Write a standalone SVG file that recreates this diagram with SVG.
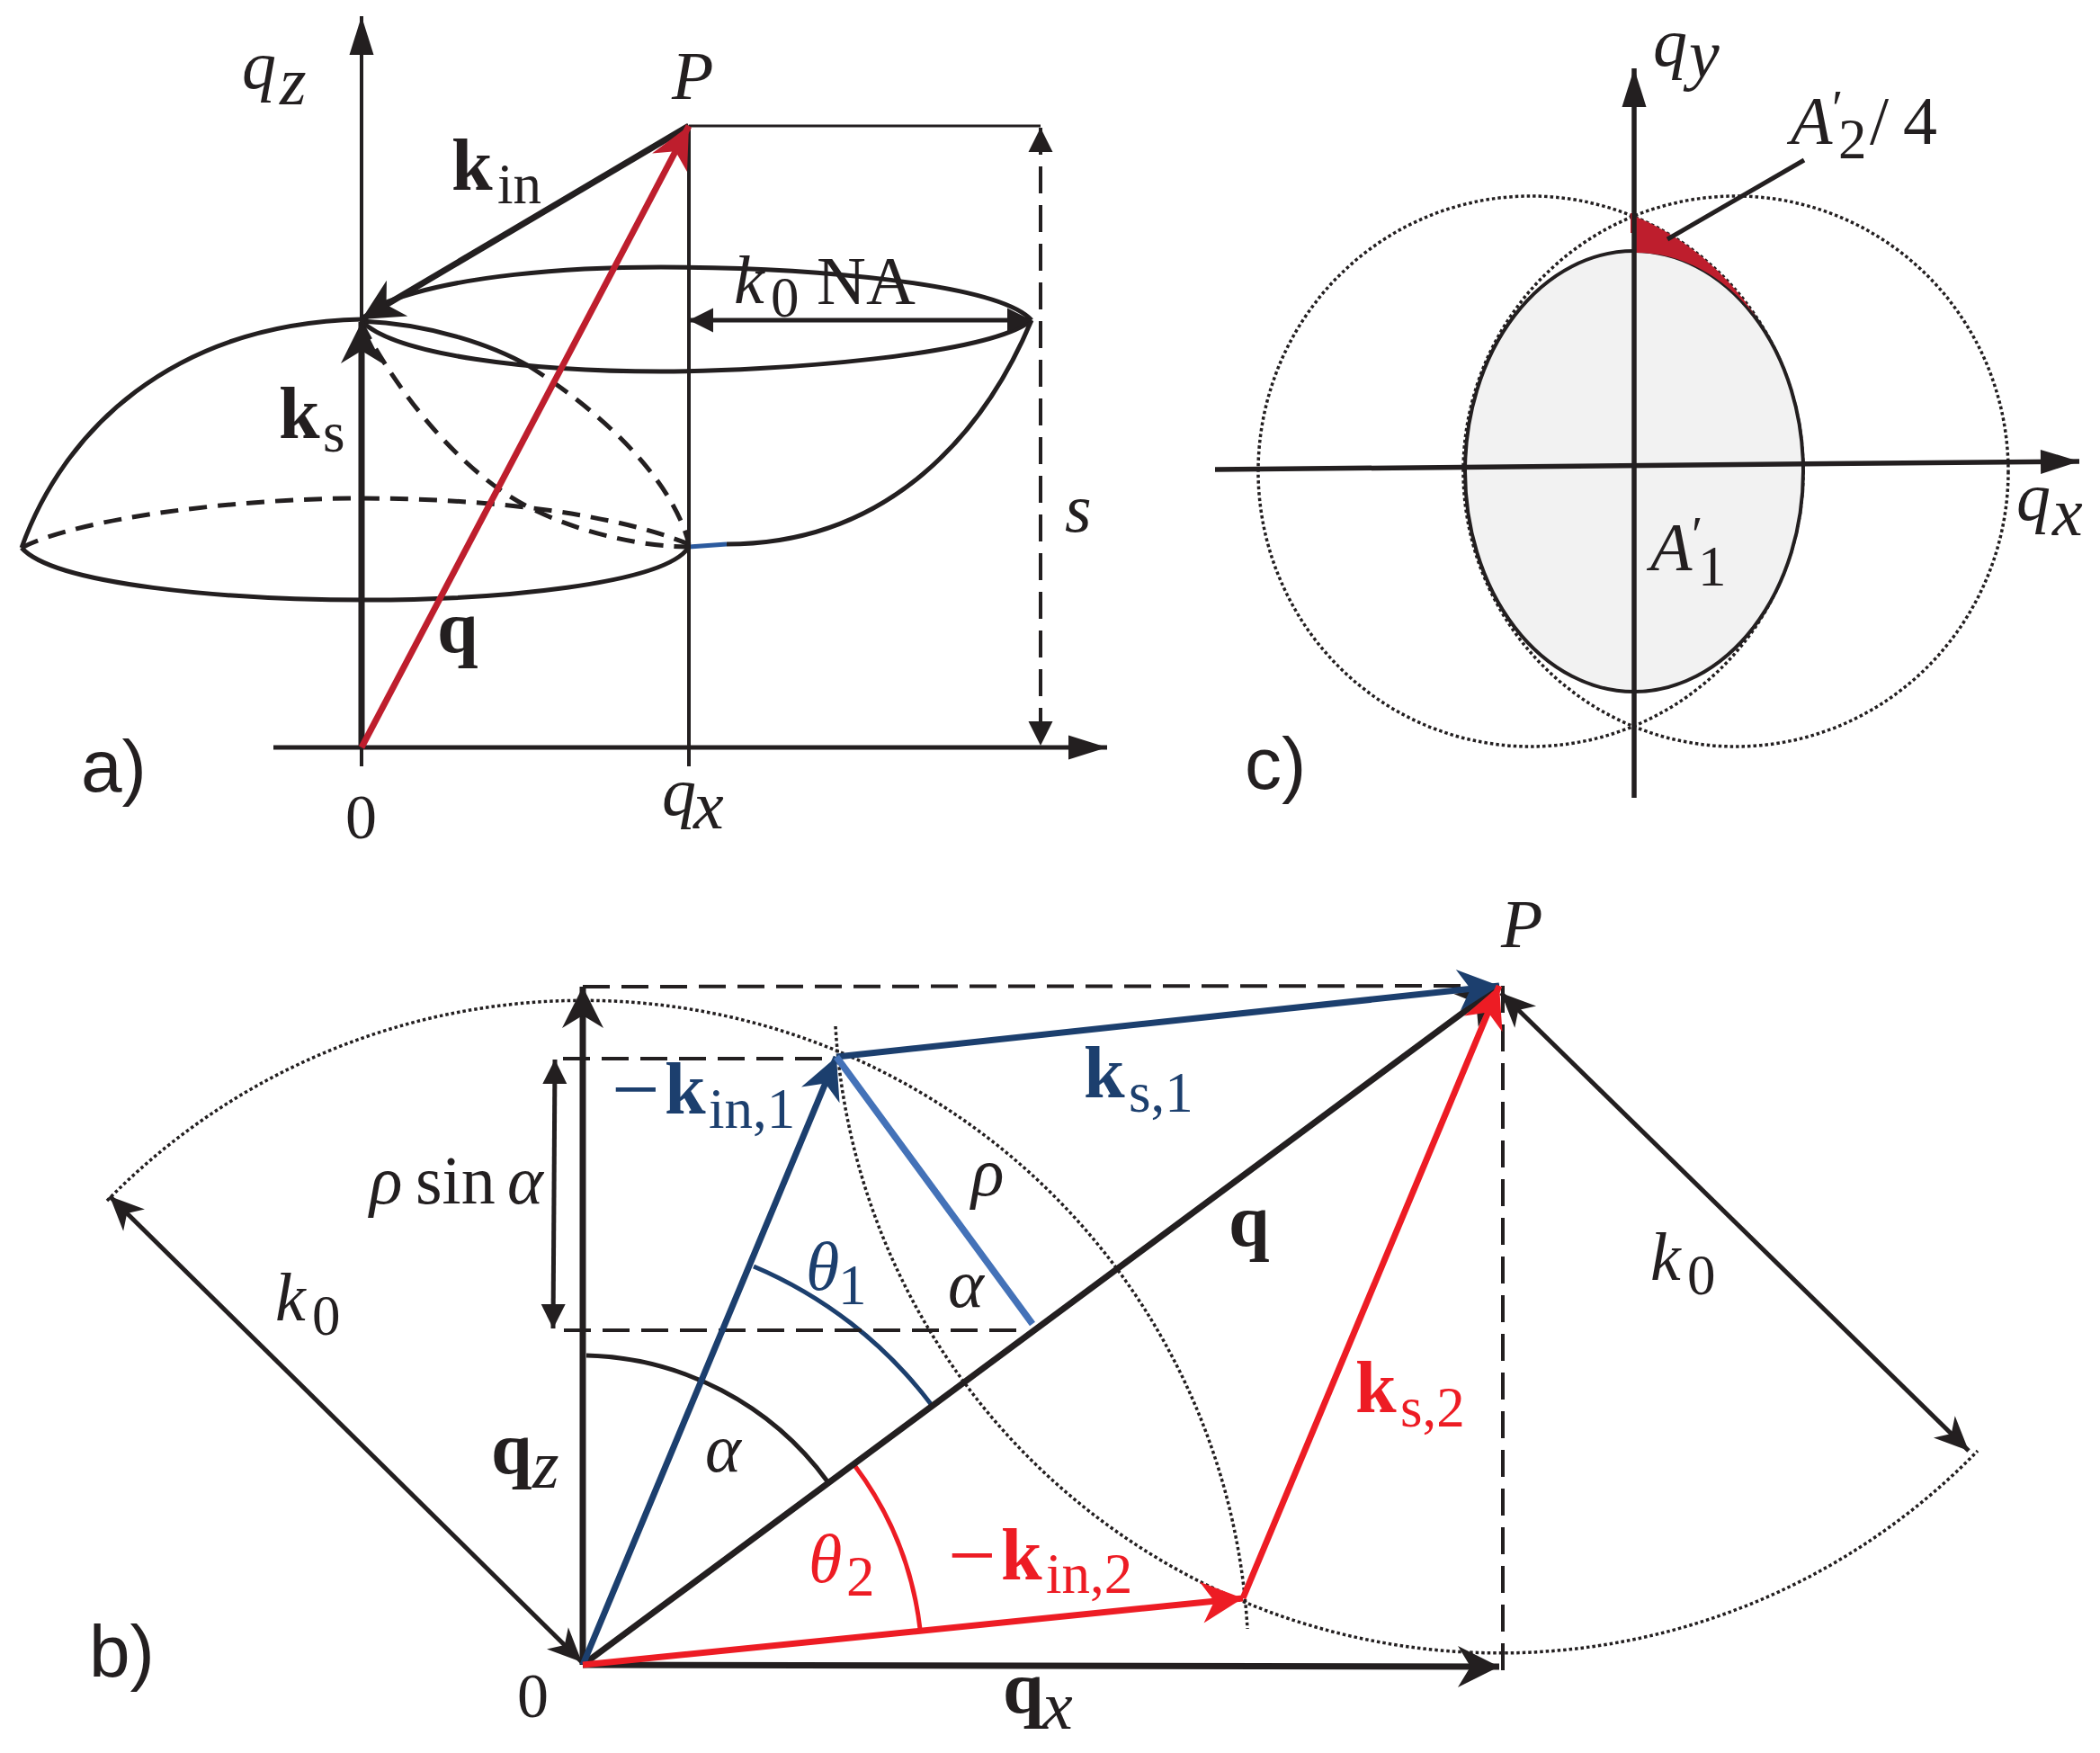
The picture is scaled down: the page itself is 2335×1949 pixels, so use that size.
<svg xmlns="http://www.w3.org/2000/svg" width="2335" height="1949" viewBox="0 0 2335 1949">
<style>
text{font-family:"Liberation Serif","DejaVu Serif",serif;font-size:76px;fill:#231f20}
.i{font-style:italic}
.b{font-weight:bold;font-size:82px}
.s{font-size:63px;font-style:normal;font-weight:normal}
.n{font-family:"Liberation Sans",Arial,sans-serif;font-size:82px}
.navy{fill:#1c3f6e}.red{fill:#ed1c24}
.l{fill:none;stroke:#231f20;stroke-width:5}
.t{stroke-width:3}.f{stroke-width:4}.m{stroke-width:5.5}.w{stroke-width:7}
.d{stroke-dasharray:20 12}.d2{stroke-dasharray:30 13;stroke-width:4}
.o{stroke-dasharray:3.5 3;stroke-width:3.5}
.cr{stroke:#be1e2d;stroke-width:7}.cn{stroke:#1c3f6e;stroke-width:7}.cb{stroke:#4472b8;stroke-width:7.5}.cd{stroke:#ed1c24;stroke-width:7}
</style>
<defs>
<marker id="ak" markerUnits="userSpaceOnUse" markerWidth="100" markerHeight="60" viewBox="-60 -30 100 60" refX="0" refY="0" orient="auto-start-reverse"><path d="M0,0 L-46,-23 L-32,0 L-46,23Z" fill="#231f20"/></marker>
<marker id="as" markerUnits="userSpaceOnUse" markerWidth="100" markerHeight="60" viewBox="-60 -30 100 60" refX="0" refY="0" orient="auto-start-reverse"><path d="M0,0 L-38,-17 L-27,0 L-38,17Z" fill="#231f20"/></marker>
<marker id="ax" markerUnits="userSpaceOnUse" markerWidth="100" markerHeight="60" viewBox="-60 -30 100 60" refX="0" refY="0" orient="auto-start-reverse"><path d="M0,0 L-43,-13.5 L-43,13.5Z" fill="#231f20"/></marker>
<marker id="at" markerUnits="userSpaceOnUse" markerWidth="100" markerHeight="60" viewBox="-60 -30 100 60" refX="0" refY="0" orient="auto-start-reverse"><path d="M0,0 L-27,-13.5 L-27,13.5Z" fill="#231f20"/></marker>
<marker id="ar" markerUnits="userSpaceOnUse" markerWidth="100" markerHeight="60" viewBox="-60 -30 100 60" refX="0" refY="0" orient="auto"><path d="M0,0 L-46,-22 L-32,0 L-46,22Z" fill="#be1e2d"/></marker>
<marker id="an" markerUnits="userSpaceOnUse" markerWidth="100" markerHeight="60" viewBox="-60 -30 100 60" refX="0" refY="0" orient="auto"><path d="M0,0 L-46,-23 L-32,0 L-46,23Z" fill="#1c3f6e"/></marker>
<marker id="ad" markerUnits="userSpaceOnUse" markerWidth="100" markerHeight="60" viewBox="-60 -30 100 60" refX="0" refY="0" orient="auto"><path d="M0,0 L-46,-23 L-32,0 L-46,23Z" fill="#ed1c24"/></marker>
</defs>
<rect width="2335" height="1949" fill="#fff"/>

<g id="panel-a">
<g id="a-surfaces">
<path class="l" d="M420,340 C500,305 640,297 735,297 C900,297 1110,315 1147,356"/>
<path class="l" d="M402,357 C440,395 590,413 735,413 C860,413 1100,395 1147,356"/>
<path class="l" d="M1147,356 C1095,480 990,605 808,605"/>
<path d="M808,605 L766,608" fill="none" stroke="#2b5a9e" stroke-width="5"/>
<path class="l" d="M24,609 C70,480 190,360 402,355"/>
<path class="l" d="M24,609 C60,650 250,667 408,667 C550,667 740,650 766,608"/>
<path class="l d" d="M24,609 C90,575 270,554 400,554 C540,554 680,570 766,605"/>
<path class="l" d="M402,357 C480,360 550,385 588,407"/>
<path class="l d" d="M588,407 C680,465 750,540 766,605"/>
<path class="l d" d="M402,360 C450,450 520,530 590,565 C650,595 720,608 766,608"/>
</g>
<g id="a-connectors">
<line class="l f" x1="402" y1="852" x2="402" y2="18" marker-end="url(#ax)"/>
<line class="l" x1="304" y1="831" x2="1231" y2="831" marker-end="url(#ax)"/>
<line class="l f" x1="766" y1="140" x2="766" y2="852"/>
<line class="l t" x1="766" y1="140" x2="1157" y2="140"/>
<line class="l d2" x1="1157" y1="142" x2="1157" y2="829" marker-start="url(#at)" marker-end="url(#at)"/>
<line class="l" x1="766" y1="356" x2="1147" y2="356" marker-start="url(#at)" marker-end="url(#at)"/>
<line class="l w" x1="402" y1="831" x2="402" y2="358" marker-end="url(#ak)"/>
<line class="l w" x1="766" y1="140" x2="402" y2="355" marker-end="url(#ak)"/>
<line class="l cr" x1="402" y1="831" x2="766" y2="140" marker-end="url(#ar)"/>
</g>
<g id="a-labels">
<text class="i" x="269" y="98">q<tspan x="311" y="116">z</tspan></text>
<text class="i" x="747" y="110">P</text>
<text class="b" x="502" y="211">k<tspan class="s" x="553" y="226">in</tspan></text>
<text class="i" x="816" y="337">k<tspan class="s" x="857" y="352">0</tspan><tspan style="font-style:normal" x="908" y="338">NA</tspan></text>
<text class="b" x="310" y="487">k<tspan class="s" x="359" y="502">s</tspan></text>
<text class="b" x="486" y="725">q</text>
<text class="n" x="90" y="880">a)</text>
<text x="384" y="932" style="font-size:70px">0</text>
<text class="i" x="736" y="906">q<tspan x="771" y="921">x</tspan></text>
<text class="i" x="1184" y="591">s</text>
</g>
</g>

<g id="panel-c">
<g id="c-shapes">
<ellipse cx="1702" cy="524" rx="303" ry="306" class="l o"/>
<ellipse cx="1930" cy="524" rx="303" ry="306" class="l o"/>
<ellipse cx="1817" cy="524" rx="188" ry="245" fill="#f2f2f2" stroke="#231f20" stroke-width="4"/>
<path d="M1817,240 A303,306 0 0 1 1953,353 A188,245 0 0 0 1817,281 Z" fill="#be1e2d"/>
<line x1="1814" y1="237" x2="1814" y2="259" stroke="#be1e2d" stroke-width="2"/>
</g>
<g id="c-connectors">
<line class="l m" x1="1351" y1="522" x2="2312" y2="513" marker-end="url(#ax)"/>
<line class="l m" x1="1817" y1="887" x2="1817" y2="76" marker-end="url(#ax)"/>
<line class="l" x1="2006" y1="178" x2="1854" y2="266"/>
</g>
<g id="c-labels">
<text class="i" x="1838" y="73">q<tspan x="1878" y="86">y</tspan></text>
<text class="i" x="1991" y="160">A<tspan x="2037" y="140" style="font-style:normal;font-size:56px">′</tspan><tspan class="s" x="2044" y="176">2</tspan><tspan style="font-style:normal" x="2079" y="160">/</tspan><tspan style="font-style:normal" x="2116" y="160">4</tspan></text>
<text class="i" x="2242" y="578">q<tspan x="2282" y="595">x</tspan></text>
<text class="i" x="1835" y="634">A<tspan x="1881" y="614" style="font-style:normal;font-size:56px">′</tspan><tspan class="s" x="1888" y="651">1</tspan></text>
<text class="n" x="1384" y="877">c)</text>
</g>
</g>

<g id="panel-b">
<g id="b-arcs">
<path class="l o" d="M119,1335 A740,740 0 0 1 1387,1811"/>
<path class="l o" d="M929,1141 A740,740 0 0 0 2199,1613"/>
<path class="l" d="M652,1507 A342,342 0 0 1 920,1647"/>
<path d="M838,1408 A483,483 0 0 1 1035,1561" fill="none" stroke="#1c3f6e" stroke-width="5"/>
<path d="M950,1629 A376,376 0 0 1 1023,1811" fill="none" stroke="#ed1c24" stroke-width="5"/>
</g>
<g id="b-connectors">
<line class="l d2" x1="648" y1="1097" x2="1667" y2="1096"/>
<line class="l d2" x1="626" y1="1177" x2="930" y2="1177"/>
<line class="l d2" x1="627" y1="1479" x2="1143" y2="1479"/>
<line class="l d2" x1="1671" y1="1096" x2="1671" y2="1868"/>
<line class="l" x1="617" y1="1178" x2="615" y2="1477" marker-start="url(#at)" marker-end="url(#at)"/>
<line class="l" x1="647" y1="1848" x2="122" y2="1330" marker-start="url(#as)" marker-end="url(#as)"/>
<line class="l" x1="1669" y1="1104" x2="2189" y2="1613" marker-start="url(#as)" marker-end="url(#as)"/>
<line class="l w" x1="648" y1="1851" x2="648" y2="1097" marker-end="url(#ak)"/>
<line class="l w" x1="648" y1="1851" x2="1667" y2="1853" marker-end="url(#ak)"/>
<line class="l w" x1="648" y1="1851" x2="1667" y2="1096" marker-end="url(#ak)"/>
<line class="l cn" x1="648" y1="1851" x2="930" y2="1175" marker-end="url(#an)"/>
<line class="l cn" x1="930" y1="1175" x2="1667" y2="1096" marker-end="url(#an)"/>
<line class="l cb" x1="930" y1="1175" x2="1148" y2="1472"/>
<line class="l cd" x1="648" y1="1851" x2="1382" y2="1777" marker-end="url(#ad)"/>
<line class="l cd" x1="1382" y1="1777" x2="1667" y2="1096" marker-end="url(#ad)"/>
</g>
<g id="b-labels">
<text class="i" x="1669" y="1053">P</text>
<text class="b navy" x="680" y="1243" style="font-size:95px"><tspan style="font-weight:normal">−</tspan><tspan x="739" y="1238" style="font-size:82px">k</tspan><tspan class="s" x="788" y="1254">in,1</tspan></text>
<text class="b navy" x="1205" y="1220">k<tspan class="s" x="1255" y="1236">s,1</tspan></text>
<text x="411" y="1338"><tspan class="i">ρ</tspan><tspan x="462">sin</tspan><tspan class="i" x="564">α</tspan></text>
<text class="i" x="1080" y="1329">ρ</text>
<text class="i navy" x="896" y="1434">θ<tspan class="s" x="932" y="1450">1</tspan></text>
<text class="i" x="1054" y="1453">α</text>
<text class="i" x="306" y="1468">k<tspan class="s" x="347" y="1484">0</tspan></text>
<text class="i" x="1835" y="1423">k<tspan class="s" x="1876" y="1439">0</tspan></text>
<text class="b" x="1366" y="1385">q</text>
<text class="b" x="546" y="1638">q<tspan style="font-style:italic;font-weight:normal;font-size:76px" x="592" y="1654">z</tspan></text>
<text class="i" x="784" y="1636">α</text>
<text class="i red" x="899" y="1759">θ<tspan class="s" x="941" y="1774">2</tspan></text>
<text class="b red" x="1054" y="1761" style="font-size:95px"><tspan style="font-weight:normal">−</tspan><tspan x="1113" y="1756" style="font-size:82px">k</tspan><tspan class="s" x="1163" y="1771">in,2</tspan></text>
<text class="b red" x="1507" y="1570">k<tspan class="s" x="1557" y="1586">s,2</tspan></text>
<text class="b" x="1115" y="1904">q<tspan style="font-style:italic;font-weight:normal;font-size:76px" x="1159" y="1922">x</tspan></text>
<text x="575" y="1909" style="font-size:70px">0</text>
<text class="n" x="99" y="1864">b)</text>
</g>
</g>
</svg>
